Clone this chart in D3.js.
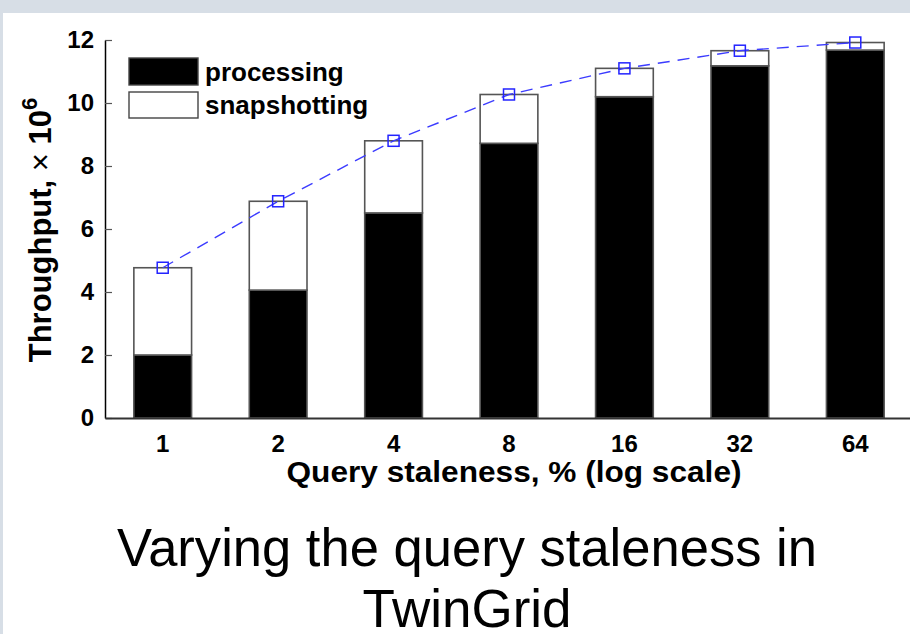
<!DOCTYPE html>
<html>
<head>
<meta charset="utf-8">
<script src="https://cdn.jsdelivr.net/npm/d3@7"></script>
<style>
  html, body { margin: 0; padding: 0; background: #d7dee6; }
  svg { display: block; }
</style>
</head>
<body>
<svg id="chart" width="910" height="634"></svg>
<script>
// Query staleness levels (percent, log-spaced)
const staleness = ["1", "2", "4", "8", "16", "32", "64"];
// Throughput split, in millions
const processing   = [2.00, 4.06, 6.51, 8.72, 10.20, 11.18, 11.68];
const snapshotting = [2.77, 2.82, 2.29, 1.55, 0.90, 0.48, 0.24];
const yTicks = [0, 2, 4, 6, 8, 10, 12];
const seriesNames = ["processing", "snapshotting"];

const svg = d3.select("#chart");
const FONT = "Liberation Sans, Arial, sans-serif";

// white page area with a thin frame showing at top/left
svg.append("rect").attr("x", 3).attr("y", 13).attr("width", 907).attr("height", 621).attr("fill", "#fff");

const x = d3.scaleBand().domain(staleness).range([105, 913]).paddingInner(0.5).paddingOuter(0.25);
const y = d3.scaleLinear().domain([0, 12]).range([418, 40]);

const rows = staleness.map((s, i) => ({ s, processing: processing[i], snapshotting: snapshotting[i] }));
const stacked = d3.stack().keys(seriesNames)(rows);
const fills = { processing: "#000", snapshotting: "#fff" };

// stacked bars
svg.append("g").selectAll("g").data(stacked).join("g")
  .attr("fill", d => fills[d.key])
  .selectAll("rect").data(d => d).join("rect")
  .attr("x", d => x(d.data.s))
  .attr("width", x.bandwidth())
  .attr("y", d => y(d[1]))
  .attr("height", d => y(d[0]) - y(d[1]))
  .attr("stroke", "#555")
  .attr("stroke-width", 1.6);

// y axis with inward ticks
const yAxis = svg.append("g").attr("transform", "translate(105,0)")
  .call(d3.axisLeft(y).tickValues(yTicks).tickSize(-7).tickSizeOuter(0).tickPadding(11));
yAxis.select(".domain").attr("stroke", "#000").attr("stroke-width", 1.5);
yAxis.selectAll(".tick line").attr("stroke", "#555").attr("stroke-width", 1.2);
yAxis.selectAll(".tick text")
  .attr("font-family", FONT)
  .attr("font-weight", "bold").attr("font-size", 24).attr("fill", "#000");

// x axis
const xAxis = svg.append("g").attr("transform", "translate(0,418)")
  .call(d3.axisBottom(x).tickSize(0).tickPadding(17));
xAxis.select(".domain").attr("stroke", "#333").attr("stroke-width", 2);
xAxis.selectAll(".tick text")
  .attr("font-family", FONT)
  .attr("font-weight", "bold").attr("font-size", 24).attr("fill", "#000");

// total throughput trend
const totals = rows.map(r => ({ s: r.s, v: r.processing + r.snapshotting }));
const cx = d => x(d.s) + x.bandwidth() / 2;
svg.append("path")
  .datum(totals)
  .attr("fill", "none")
  .attr("stroke", "#3b3bff")
  .attr("stroke-width", 1.4)
  .attr("stroke-dasharray", "12,8")
  .attr("d", d3.line().x(cx).y(d => y(d.v)));
svg.append("g").selectAll("rect").data(totals).join("rect")
  .attr("x", d => cx(d) - 5.5)
  .attr("y", d => y(d.v) - 5.5)
  .attr("width", 11).attr("height", 11)
  .attr("fill", "none").attr("stroke", "#2323ff").attr("stroke-width", 1.5);

// legend
const legend = svg.append("g");
const legendRows = [
  { name: "processing", y: 58, h: 27, base: 81 },
  { name: "snapshotting", y: 92, h: 26, base: 114 }
];
legendRows.forEach(r => {
  legend.append("rect").attr("x", 129).attr("y", r.y).attr("width", 69).attr("height", r.h)
    .attr("fill", fills[r.name]).attr("stroke", "#444").attr("stroke-width", 1.4);
  legend.append("text").attr("x", 205).attr("y", r.base)
    .attr("font-family", FONT)
    .attr("font-weight", "bold").attr("font-size", 26).text(r.name);
});

// axis titles
const yl = svg.append("text")
  .attr("transform", "translate(51,230) rotate(-90)")
  .attr("text-anchor", "middle")
  .attr("font-family", FONT)
  .attr("font-weight", "bold").attr("font-size", 31);
yl.append("tspan").text("Throughput, ");
yl.append("tspan").attr("font-weight", "normal").text("\u00d7");
yl.append("tspan").text(" 10");
yl.append("tspan").attr("font-size", 22).attr("dy", -14).text("6");

svg.append("text")
  .attr("x", 514).attr("y", 482)
  .attr("text-anchor", "middle")
  .attr("font-family", FONT)
  .attr("font-weight", "bold").attr("font-size", 29)
  .attr("textLength", 455).attr("lengthAdjust", "spacingAndGlyphs")
  .text("Query staleness, % (log scale)");

// slide caption
const caption = [
  { t: "Varying the query staleness in", y: 566, w: 700 },
  { t: "TwinGrid", y: 627, w: 209 }
];
caption.forEach(c => {
  svg.append("text")
    .attr("x", 467).attr("y", c.y)
    .attr("text-anchor", "middle")
    .attr("font-family", FONT)
    .attr("font-size", 54)
    .attr("textLength", c.w).attr("lengthAdjust", "spacingAndGlyphs")
    .text(c.t);
});
</script>
</body>
</html>
